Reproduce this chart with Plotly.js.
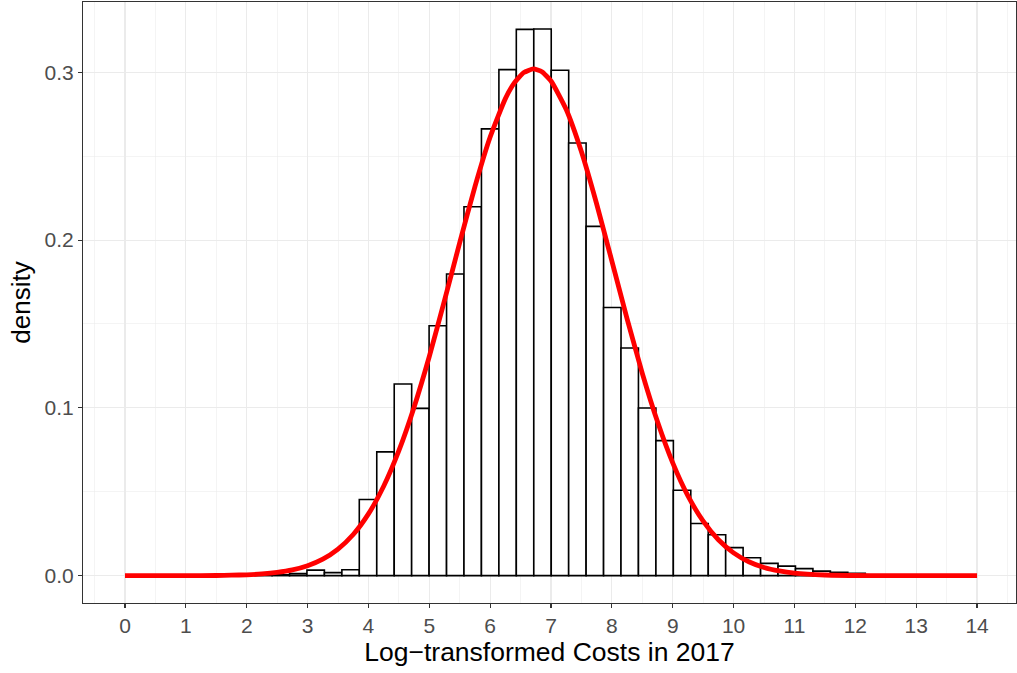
<!DOCTYPE html>
<html>
<head>
<meta charset="utf-8">
<script src="https://cdn.plot.ly/plotly-3.0.1.min.js"></script>
<style>
  html, body { margin: 0; padding: 0; background: #fff; }
  #chart { width: 1017px; height: 673px; }
</style>
</head>
<body>
<div id="chart"></div>
<script>
// Histogram bin centres (log-transformed costs) and densities
const binCenters = [2.273, 2.560, 2.847, 3.133, 3.420, 3.707, 3.993, 4.280, 4.567, 4.853,
  5.140, 5.427, 5.713, 6.000, 6.287, 6.573, 6.860, 7.147, 7.433, 7.720,
  8.007, 8.293, 8.580, 8.867, 9.153, 9.440, 9.727, 10.013, 10.300, 10.587,
  10.873, 11.160, 11.447, 11.733, 12.020];
const binDensity = [0.0002, 0.0005, 0.0012, 0.0033, 0.0018, 0.0035, 0.0454, 0.0738, 0.1142, 0.0997,
  0.1489, 0.1798, 0.2199, 0.2663, 0.3016, 0.3256, 0.3258, 0.3012, 0.2579, 0.2082,
  0.1598, 0.1357, 0.0999, 0.0805, 0.0509, 0.0311, 0.0244, 0.0167, 0.0107, 0.0073,
  0.0057, 0.0042, 0.0027, 0.0020, 0.0014];
const binWidth = 0.2867;

// Fitted normal density curve
const curveX = [0, 0.5, 1, 1.5, 1.75, 2, 2.25, 2.5, 2.75, 3, 3.25, 3.5, 3.75, 4, 4.25, 4.5, 4.75, 5, 5.25, 5.5, 5.75,
  6, 6.25, 6.4, 6.55, 6.71, 6.85, 7, 7.25, 7.5, 7.75, 8, 8.25, 8.5, 8.75, 9, 9.25, 9.5, 9.75,
  10, 10.25, 10.5, 10.75, 11, 11.5, 12, 12.5, 13, 13.5, 14];
const curveY = [0, 0, 0, 0.0001, 0.0003, 0.0005, 0.0010, 0.0019, 0.0034, 0.0059, 0.0098, 0.0158, 0.0245,
  0.0368, 0.0533, 0.0745, 0.1004, 0.1306, 0.1640, 0.1985, 0.2319, 0.2614, 0.2843, 0.2938, 0.2998, 0.3020,
  0.3003, 0.2948, 0.2778, 0.2526, 0.2215, 0.1875, 0.1531, 0.1206, 0.0917, 0.0672, 0.0475, 0.0325, 0.0214,
  0.0136, 0.0083, 0.0049, 0.0028, 0.0015, 0.0004, 0.0001, 0, 0, 0, 0];

const xTicks = [0,1,2,3,4,5,6,7,8,9,10,11,12,13,14];
const yTicks = [0, 0.1, 0.2, 0.3];
const yTickText = ['0.0', '0.1', '0.2', '0.3'];

const font = "'Liberation Sans', Arial, Helvetica, sans-serif";

const traces = [
  {
    type: 'bar',
    x: binCenters,
    y: binDensity,
    width: binWidth,
    marker: { color: '#FFFFFF', line: { color: '#000000', width: 1.6 } },
    hoverinfo: 'x+y',
    showlegend: false
  },
  {
    type: 'scatter',
    mode: 'lines',
    x: curveX,
    y: curveY,
    line: { color: '#FF0000', width: 4.8, shape: 'spline', smoothing: 0.5 },
    showlegend: false
  }
];

const layout = {
  width: 1017,
  height: 673,
  margin: { l: 83, r: 1, t: 2, b: 70 },
  paper_bgcolor: '#FFFFFF',
  plot_bgcolor: '#FFFFFF',
  bargap: 0,
  font: { family: font, color: '#4D4D4D' },
  xaxis: {
    range: [-0.69, 14.64],
    tickmode: 'array',
    tickvals: xTicks,
    ticktext: xTicks.map(String),
    ticks: 'outside',
    ticklen: 4,
    tickwidth: 1.1,
    tickcolor: '#333333',
    tickfont: { size: 21, color: '#4D4D4D', family: font },
    showgrid: true,
    gridcolor: '#EBEBEB',
    gridwidth: 1.1,
    minor: { dtick: 0.5, tick0: 0.5, showgrid: true, gridcolor: '#EBEBEB', gridwidth: 0.55, ticks: '' },
    zeroline: false,
    showline: true,
    mirror: true,
    linecolor: '#333333',
    linewidth: 1.1,
    title: { text: 'Log\u2212transformed Costs in 2017', font: { size: 26.5, color: '#000000', family: font }, standoff: 5 }
  },
  yaxis: {
    range: [-0.0163, 0.3419],
    tickmode: 'array',
    tickvals: yTicks,
    ticktext: yTickText,
    ticks: 'outside',
    ticklen: 4,
    tickwidth: 1.1,
    tickcolor: '#333333',
    tickfont: { size: 21, color: '#4D4D4D', family: font },
    showgrid: true,
    gridcolor: '#EBEBEB',
    gridwidth: 1.1,
    minor: { dtick: 0.05, tick0: 0.05, showgrid: true, gridcolor: '#EBEBEB', gridwidth: 0.55, ticks: '' },
    zeroline: false,
    showline: true,
    mirror: true,
    linecolor: '#333333',
    linewidth: 1.1,
    title: { text: 'density', font: { size: 26, color: '#000000', family: font }, standoff: 6 }
  }
};

Plotly.newPlot('chart', traces, layout, { displayModeBar: false, staticPlot: true });
</script>
</body>
</html>
